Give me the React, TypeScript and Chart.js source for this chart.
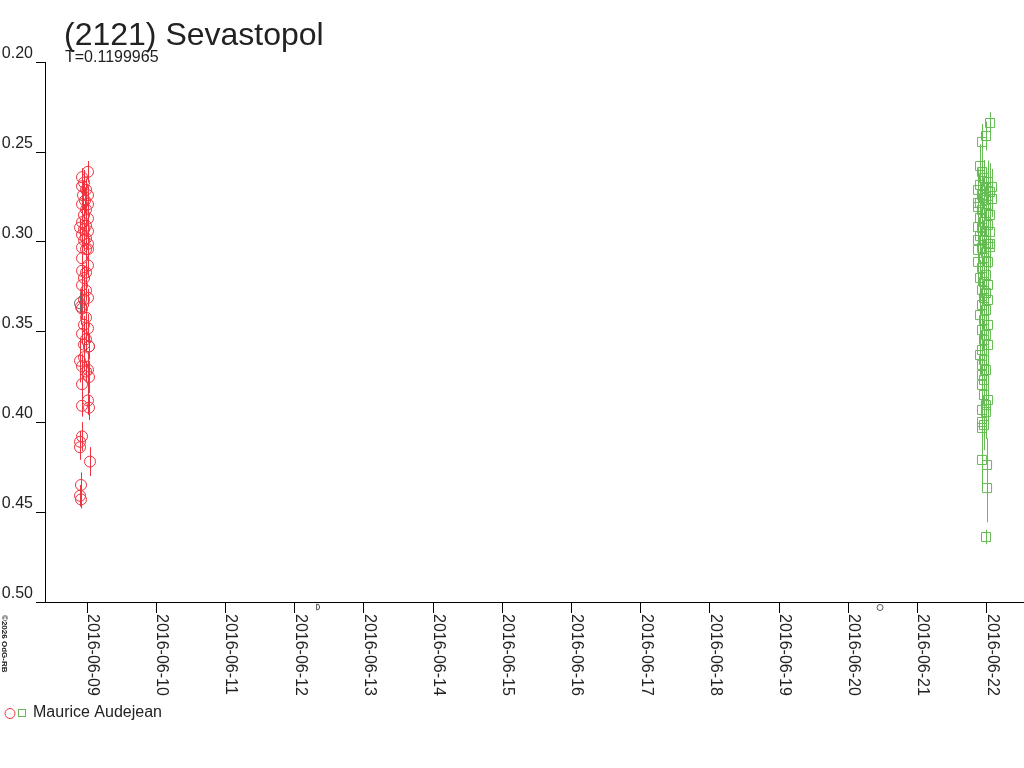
import React, { useEffect, useRef } from "react";
import { Chart, registerables } from "chart.js";

Chart.register(...registerables);

const TITLE = "(2121) Sevastopol";
const SUBTITLE = "T=0.1199965";
const OBSERVER = "Maurice Audejean";
const COPYRIGHT = "©2026 OdG-RB";

// x values: days since 2016-06-09 00:00 UTC
const xTickLabels = [
  "2016-06-09", "2016-06-10", "2016-06-11", "2016-06-12", "2016-06-13",
  "2016-06-14", "2016-06-15", "2016-06-16", "2016-06-17", "2016-06-18",
  "2016-06-19", "2016-06-20", "2016-06-21", "2016-06-22",
];
const yTicks = [0.2, 0.25, 0.3, 0.35, 0.4, 0.45, 0.5];
const X_MIN = -0.607;
const X_MAX = 13.54;
const Y_MIN = 0.2;
const Y_MAX = 0.5;

// moon phases: first quarter 2016-06-12 08:10, full moon 2016-06-20 11:02
const moonX = [3.34, 11.46];
const moonKind = ["first", "full"];

const redX = [
  0.014, -0.072, -0.043, -0.072, -0.014, -0.058, 0.014, -0.029, -0.072, 0.014,
  -0.014, -0.043, 0.014, -0.072, -0.014, -0.101, -0.043, 0.014, -0.072, -0.014,
  -0.043, 0.014, -0.072, -0.014, 0.014, -0.072, 0.014, -0.072, -0.014, -0.043,
  -0.072, -0.014, 0.014, -0.043, -0.087, -0.072, -0.014, -0.043, 0.014, -0.072,
  -0.014, -0.043, 0.029, -0.043, -0.101, -0.072, 0.014, -0.014, 0.029, -0.072,
  0.014, -0.072, 0.029, -0.072, -0.101, -0.101, 0.043, -0.087, -0.101, -0.087,
];
const redY = [
  0.261, 0.264, 0.267, 0.269, 0.271, 0.274, 0.274, 0.277, 0.279, 0.279,
  0.282, 0.285, 0.287, 0.289, 0.291, 0.292, 0.293, 0.294, 0.296, 0.298,
  0.299, 0.301, 0.303, 0.304, 0.304, 0.309, 0.313, 0.316, 0.317, 0.32,
  0.324, 0.327, 0.331, 0.332, 0.336, 0.337, 0.342, 0.346, 0.348, 0.351,
  0.354, 0.357, 0.358, 0.364, 0.366, 0.369, 0.371, 0.372, 0.375, 0.379,
  0.388, 0.391, 0.392, 0.408, 0.411, 0.414, 0.422, 0.435, 0.441, 0.443,
];
const redErr = [
  0.006, 0.005, 0.007, 0.005, 0.006, 0.008, 0.005, 0.007, 0.006, 0.005,
  0.007, 0.006, 0.005, 0.008, 0.006, 0.005, 0.007, 0.006, 0.008, 0.005,
  0.006, 0.007, 0.005, 0.006, 0.008, 0.006, 0.007, 0.005, 0.006, 0.007,
  0.008, 0.006, 0.005, 0.007, 0.01, 0.006, 0.007, 0.005, 0.008, 0.006,
  0.007, 0.009, 0.006, 0.008, 0.012, 0.007, 0.01, 0.006, 0.009, 0.007,
  0.008, 0.006, 0.007, 0.008, 0.006, 0.007, 0.008, 0.007, 0.006, 0.005,
];

const grayX = [-0.101, 0.029];
const grayY = [0.334, 0.358];
const grayErr = [0.006, 0.007];

const greenX = [
  13.049, 12.991, 12.934, 12.905, 12.934, 12.962, 13.02, 12.905, 12.991, 12.876,
  13.049, 12.934, 12.962, 12.991, 12.905, 13.02, 12.934, 12.991, 13.049, 12.905,
  12.962, 13.02, 12.934, 12.991, 12.905, 12.962, 13.02, 12.934, 12.991, 12.876,
  12.962, 13.02, 12.934, 12.991, 12.905, 12.962, 13.02, 12.934, 12.991, 12.962,
  13.02, 12.934, 12.991, 12.905, 12.962, 13.02, 12.934, 12.991, 12.962, 13.02,
  12.934, 12.905, 12.962, 12.934, 12.991, 12.934, 12.962, 12.934, 12.962, 13.02,
  12.991, 12.934, 12.991, 12.934, 12.962, 12.934, 12.934, 13.006, 13.006, 12.991,
  12.876, 13.049, 13.078, 12.876, 13.049, 12.876, 12.876, 13.078, 12.876, 13.049,
];
const greenY = [
  0.2339, 0.2411, 0.2444, 0.2578, 0.2611, 0.2644, 0.2667, 0.2683, 0.27, 0.2711,
  0.2722, 0.2739, 0.2756, 0.2767, 0.2783, 0.2794, 0.2822, 0.2839, 0.285, 0.2867,
  0.2889, 0.2906, 0.2922, 0.2944, 0.2967, 0.2989, 0.3011, 0.3033, 0.3056, 0.3044,
  0.3089, 0.3111, 0.3144, 0.3183, 0.32, 0.3222, 0.3239, 0.3267, 0.3283, 0.3311,
  0.3322, 0.335, 0.3378, 0.3406, 0.3433, 0.3461, 0.3489, 0.3517, 0.3544, 0.3572,
  0.36, 0.3628, 0.3656, 0.3683, 0.3711, 0.3739, 0.3767, 0.3794, 0.385, 0.3878,
  0.3906, 0.3933, 0.3944, 0.4, 0.4017, 0.4033, 0.4211, 0.4239, 0.4367, 0.4639,
  0.2806, 0.2944, 0.2761, 0.2989, 0.3011, 0.2917, 0.2783, 0.2694, 0.3111, 0.3028,
];
const greenErr = [
  0.006, 0.008, 0.01, 0.012, 0.015, 0.01, 0.012, 0.014, 0.01, 0.012,
  0.016, 0.011, 0.013, 0.018, 0.01, 0.012, 0.014, 0.012, 0.016, 0.01,
  0.013, 0.015, 0.012, 0.014, 0.01, 0.013, 0.016, 0.012, 0.014, 0.011,
  0.013, 0.015, 0.012, 0.014, 0.01, 0.012, 0.015, 0.013, 0.014, 0.012,
  0.014, 0.013, 0.016, 0.012, 0.014, 0.015, 0.013, 0.016, 0.014, 0.015,
  0.013, 0.012, 0.014, 0.013, 0.015, 0.012, 0.014, 0.013, 0.015, 0.016,
  0.014, 0.013, 0.015, 0.012, 0.014, 0.013, 0.016, 0.015, 0.019, 0.004,
  0.012, 0.014, 0.01, 0.012, 0.013, 0.011, 0.012, 0.01, 0.013, 0.012,
];

const RED = "rgb(238,50,62)";
const GREEN = "rgb(102,187,85)";
const GRAY = "rgb(110,110,110)";
const TEXT = "#222";
const FONT = "'Liberation Sans', Arial, Helvetica, sans-serif";

const errorSets = [redErr, grayErr, greenErr];

const errorBarPlugin = {
  id: "errorBars",
  beforeDatasetsDraw(chart: any) {
    const ctx = chart.ctx;
    const xs = chart.scales.x;
    const ys = chart.scales.y;
    ctx.save();
    ctx.beginPath();
    ctx.rect(chart.chartArea.left, chart.chartArea.top, chart.chartArea.right - chart.chartArea.left, chart.chartArea.bottom - chart.chartArea.top);
    ctx.clip();
    chart.data.datasets.forEach((ds: any, di: number) => {
      const errs = errorSets[di];
      ctx.strokeStyle = ds.borderColor;
      ctx.lineWidth = 1;
      ds.data.forEach((p: any, i: number) => {
        const e = errs[i] || 0;
        const px = Math.round(xs.getPixelForValue(p.x)) + 0.5;
        const y1 = ys.getPixelForValue(p.y - e);
        const y2 = ys.getPixelForValue(p.y + e);
        ctx.beginPath();
        ctx.moveTo(px, y1);
        ctx.lineTo(px, y2);
        ctx.stroke();
      });
    });
    ctx.restore();
  },
};

const textPlugin = {
  id: "customText",
  afterDraw(chart: any) {
    const ctx = chart.ctx;
    const xs = chart.scales.x;
    ctx.save();
    // title
    ctx.fillStyle = TEXT;
    ctx.textAlign = "left";
    ctx.textBaseline = "alphabetic";
    ctx.font = `32px ${FONT}`;
    ctx.fillText(TITLE, 64, 45);
    ctx.font = `16px ${FONT}`;
    ctx.fillText(SUBTITLE, 65, 62);

    // x tick labels rotated (reading top to bottom)
    ctx.font = `16px ${FONT}`;
    xTickLabels.forEach((lab, i) => {
      const px = xs.getPixelForValue(i);
      ctx.save();
      ctx.translate(Math.round(px) + 0.5, 614);
      ctx.rotate(Math.PI / 2);
      ctx.fillText(lab, 0, 0);
      ctx.restore();
    });

    // copyright
    ctx.save();
    ctx.font = `bold 8px ${FONT}`;
    ctx.translate(2, 615);
    ctx.rotate(Math.PI / 2);
    ctx.fillText(COPYRIGHT, 0, 0);
    ctx.restore();

    // moon phases
    ctx.strokeStyle = "#555";
    ctx.lineWidth = 1;
    moonX.forEach((mx, i) => {
      const px = xs.getPixelForValue(mx);
      ctx.beginPath();
      if (moonKind[i] === "full") {
        ctx.arc(px, 607.5, 3, 0, Math.PI * 2);
      } else {
        ctx.arc(px - 1.5, 607, 3, -Math.PI / 2, Math.PI / 2);
        ctx.closePath();
      }
      ctx.stroke();
    });

    // legend
    ctx.lineWidth = 1;
    ctx.strokeStyle = RED;
    ctx.beginPath();
    ctx.arc(10, 713.5, 5, 0, Math.PI * 2);
    ctx.stroke();
    ctx.strokeStyle = GREEN;
    ctx.strokeRect(18.5, 709.5, 7, 7);
    ctx.fillStyle = TEXT;
    ctx.font = `16px ${FONT}`;
    ctx.textBaseline = "middle";
    ctx.fillText(OBSERVER, 33, 713);
    ctx.restore();
  },
};

export default function App() {
  const ref = useRef<HTMLCanvasElement | null>(null);

  useEffect(() => {
    if (!ref.current) return;
    Chart.defaults.font.family = FONT;
    const mk = (xs: number[], ys: number[]) => xs.map((x, i) => ({ x, y: ys[i] }));
    const chart = new Chart(ref.current, {
      type: "scatter",
      data: {
        datasets: [
          {
            label: OBSERVER,
            data: mk(redX, redY),
            borderColor: RED,
            backgroundColor: "rgba(0,0,0,0)",
            pointStyle: "circle",
            pointRadius: 5.5,
            pointBorderWidth: 1,
          },
          {
            label: "gray",
            data: mk(grayX, grayY),
            borderColor: GRAY,
            backgroundColor: "rgba(0,0,0,0)",
            pointStyle: "circle",
            pointRadius: 5.5,
            pointBorderWidth: 1,
          },
          {
            label: OBSERVER + " 2",
            data: mk(greenX, greenY),
            borderColor: GREEN,
            backgroundColor: "rgba(0,0,0,0)",
            pointStyle: "rect",
            pointRadius: 6.4,
            pointBorderWidth: 1,
          },
        ],
      },
      options: {
        responsive: false,
        animation: false,
        layout: { autoPadding: false, padding: { top: 62, left: 0, right: 0, bottom: 0 } },
        plugins: {
          legend: { display: false },
          tooltip: { enabled: false },
          title: { display: false },
        },
        scales: {
          x: {
            type: "linear",
            min: X_MIN,
            max: X_MAX,
            afterBuildTicks: (s: any) => {
              s.ticks = xTickLabels.map((_, i) => ({ value: i }));
            },
            afterFit: (s: any) => {
              s.height = 166;
            },
            ticks: { display: false },
            grid: { drawOnChartArea: false, drawTicks: true, tickLength: 11, color: "#000" },
            border: { display: true, color: "#000" },
          },
          y: {
            type: "linear",
            reverse: true,
            min: Y_MIN,
            max: Y_MAX,
            afterBuildTicks: (s: any) => {
              s.ticks = yTicks.map((v) => ({ value: v }));
            },
            afterFit: (s: any) => {
              s.width = 45;
            },
            ticks: {
              labelOffset: -8,
              padding: 3,
              color: TEXT,
              font: { size: 16, family: FONT },
              callback: (v: any) => Number(v).toFixed(2),
            },
            grid: { drawOnChartArea: false, drawTicks: true, tickLength: 9, color: "#000" },
            border: { display: true, color: "#000" },
          },
        },
      } as any,
      plugins: [errorBarPlugin, textPlugin],
    });
    return () => chart.destroy();
  }, []);

  return (
    <canvas
      ref={ref}
      width={1024}
      height={768}
      style={{ position: "absolute", left: 0, top: 0, width: 1024, height: 768 }}
    />
  );
}
